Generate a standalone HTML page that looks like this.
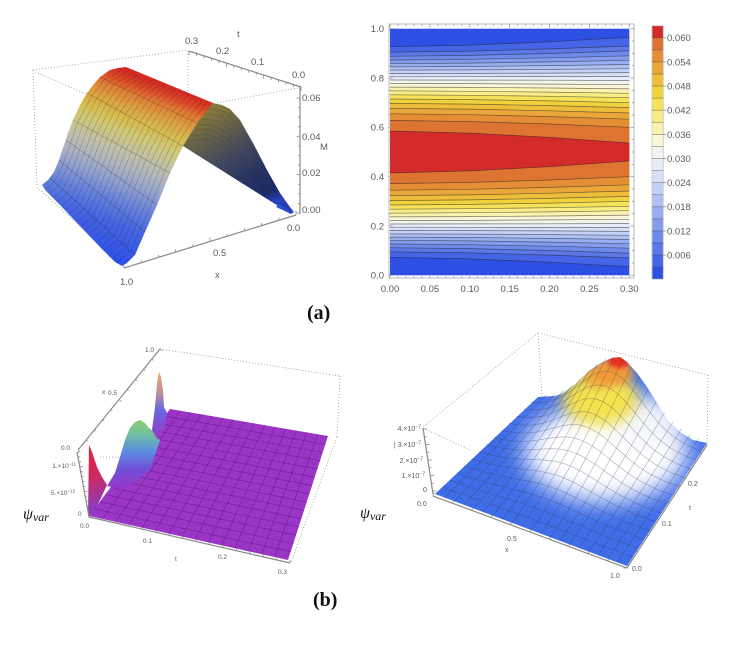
<!DOCTYPE html>
<html><head><meta charset="utf-8">
<style>
html,body{margin:0;padding:0;background:#fff;}
svg{display:block;}
text{font-family:"Liberation Sans",sans-serif;}
.ax{stroke:#8a8a8a;stroke-width:1.2;fill:none;}
.dot{stroke:#a0a0a0;stroke-width:0.9;stroke-dasharray:1 2;fill:none;}
.lb{fill:#5a5a5a;}
</style></head>
<body>
<svg id="s" width="743" height="645" viewBox="0 0 743 645" xmlns="http://www.w3.org/2000/svg">
<defs>
 <linearGradient id="g1" gradientUnits="userSpaceOnUse" x1="165" y1="86" x2="102.5" y2="254.8">
  <stop offset="0" stop-color="#d42a22"/>
  <stop offset="0.05" stop-color="#dc4a28"/>
  <stop offset="0.10" stop-color="#e07a34"/>
  <stop offset="0.17" stop-color="#dca040"/>
  <stop offset="0.25" stop-color="#d6be50"/>
  <stop offset="0.32" stop-color="#cfc878"/>
  <stop offset="0.42" stop-color="#c0c0a8"/>
  <stop offset="0.50" stop-color="#b0b4c0"/>
  <stop offset="0.60" stop-color="#8c9dd0"/>
  <stop offset="0.70" stop-color="#6480dc"/>
  <stop offset="0.82" stop-color="#4464e2"/>
  <stop offset="1" stop-color="#3050e8"/>
 </linearGradient>
 <linearGradient id="g1d" gradientUnits="userSpaceOnUse" x1="215" y1="104" x2="270" y2="205">
  <stop offset="0" stop-color="#8a7c3c"/>
  <stop offset="0.2" stop-color="#6a6446"/>
  <stop offset="0.45" stop-color="#444a5c"/>
  <stop offset="0.7" stop-color="#283462"/>
  <stop offset="0.9" stop-color="#1e2c6a"/>
  <stop offset="1" stop-color="#2a46c8"/>
 </linearGradient>
 <linearGradient id="gsp" gradientUnits="userSpaceOnUse" x1="88" y1="450" x2="106" y2="505">
  <stop offset="0" stop-color="#e8203c"/>
  <stop offset="0.5" stop-color="#c82a68"/>
  <stop offset="1" stop-color="#8a3cc0"/>
 </linearGradient>
 <linearGradient id="gbu" gradientUnits="userSpaceOnUse" x1="0" y1="420" x2="0" y2="490">
  <stop offset="0" stop-color="#90cc70"/>
  <stop offset="0.2" stop-color="#70c0a0"/>
  <stop offset="0.45" stop-color="#5a8ee0"/>
  <stop offset="0.7" stop-color="#7050d8"/>
  <stop offset="1" stop-color="#9a35c6"/>
 </linearGradient>
 <linearGradient id="gtp" gradientUnits="userSpaceOnUse" x1="0" y1="372" x2="0" y2="440">
  <stop offset="0" stop-color="#e8a868"/>
  <stop offset="0.3" stop-color="#c0909a"/>
  <stop offset="0.55" stop-color="#6868e0"/>
  <stop offset="1" stop-color="#9a35c6"/>
 </linearGradient>
 <clipPath id="c4">
  <polygon points="435,494 538,397 555,396 563,393 577,383 590,370 603,362 612,358 620,357 627,362 637,373 647,387 657,403 667,420 680,432 693,440 707,443 627,566"/>
 </clipPath>
 <filter id="b12" x="-50%" y="-50%" width="200%" height="200%"><feGaussianBlur stdDeviation="12"/></filter>
 <filter id="b7" x="-50%" y="-50%" width="200%" height="200%"><feGaussianBlur stdDeviation="7"/></filter>
 <filter id="b4" x="-50%" y="-50%" width="200%" height="200%"><feGaussianBlur stdDeviation="4"/></filter>
 <filter id="b2" x="-50%" y="-50%" width="200%" height="200%"><feGaussianBlur stdDeviation="2.5"/></filter>
</defs>
<rect width="743" height="645" fill="#fff"/>

<!-- ============ Panel 1 : 3D M surface ============ -->
<path class="dot" d="M33,70 L188,50 M33,70 L37,187 M37,187 L121,264 M188,51 L188,100 M35,72 L93,97 M298,88 L216,103"/>
<polygon fill="url(#g1)" points="42,185 48,180 54,172 59,160 63,148 68,133 73,120 80,105 87,93 94,84 100,77 110,70 118,68 126,67 213,103 216,106 197,123 183,146 170,173 157,205 145,232 135,255 127,263 122,266 115,262 100,247 80,226 60,205 46,191"/>
<polygon fill="url(#g1d)" points="213,103 222,105 230,109 240,120 253,143 267,170 280,193 290,207 294,212 291,214 183,146 197,123"/>
<polygon fill="#3050d8" points="279,204 294,212 291,214 276,207"/>
<g id="m1"></g>
<path class="ax" d="M189,51 L301,87 M300,87 L300,214 M296,215 L124,268"/>
<g id="t1"></g>
<g class="lb" font-size="9.5">
 <text x="237" y="37">t</text>
 <text x="185" y="44">0.3</text>
 <text x="216" y="54">0.2</text>
 <text x="251" y="65">0.1</text>
 <text x="292" y="78">0.0</text>
 <text x="302" y="101">0.06</text>
 <text x="302" y="140">0.04</text>
 <text x="302" y="176">0.02</text>
 <text x="302" y="213">0.00</text>
 <text x="320" y="150">M</text>
 <text x="287" y="231">0.0</text>
 <text x="213" y="256">0.5</text>
 <text x="120" y="285">1.0</text>
 <text x="215" y="278">x</text>
</g>

<!-- ============ Panel 2 : contour ============ -->
<rect x="390" y="28.7" width="239.3" height="246.6" fill="#2d4fe4"/>
<g id="cp">
<polygon fill="#4565e6" points="390,46.7 469.8,45.1 549.5,41.8 629.3,37.3 629.3,266.7 549.5,262.2 469.8,258.9 390,257.3"/>
<polygon fill="#5a78e8" points="390,52.1 469.8,51.1 549.5,48.9 629.3,46.0 629.3,258.0 549.5,255.1 469.8,252.9 390,251.9"/>
<polygon fill="#6e8aea" points="390,56.3 469.8,55.4 549.5,53.5 629.3,50.9 629.3,253.1 549.5,250.5 469.8,248.6 390,247.7"/>
<polygon fill="#839cee" points="390,60.0 469.8,59.3 549.5,57.8 629.3,55.8 629.3,248.2 549.5,246.2 469.8,244.7 390,244.0"/>
<polygon fill="#98aef1" points="390,63.7 469.8,63.1 549.5,61.9 629.3,60.3 629.3,243.7 549.5,242.1 469.8,240.9 390,240.3"/>
<polygon fill="#aec0f4" points="390,66.9 469.8,66.5 549.5,65.6 629.3,64.5 629.3,239.5 549.5,238.4 469.8,237.5 390,237.1"/>
<polygon fill="#c4d1f6" points="390,70.1 469.8,69.9 549.5,69.4 629.3,68.7 629.3,235.3 549.5,234.6 469.8,234.1 390,233.9"/>
<polygon fill="#d8e0f8" points="390,73.6 469.8,73.4 549.5,73.1 629.3,72.6 629.3,231.4 549.5,230.9 469.8,230.6 390,230.4"/>
<polygon fill="#e8ecf6" points="390,76.8 469.8,76.7 549.5,76.6 629.3,76.5 629.3,227.5 549.5,227.4 469.8,227.3 390,227.2"/>
<polygon fill="#f3f3ee" points="390,80.0 469.8,80.1 549.5,80.2 629.3,80.5 629.3,223.5 549.5,223.8 469.8,223.9 390,224.0"/>
<polygon fill="#f8f6d6" points="390,83.4 469.8,83.6 549.5,84.1 629.3,84.7 629.3,219.3 549.5,219.9 469.8,220.4 390,220.6"/>
<polygon fill="#faf3b0" points="390,87.1 469.8,87.4 549.5,88.0 629.3,88.9 629.3,215.1 549.5,216.0 469.8,216.6 390,216.9"/>
<polygon fill="#f8ec84" points="390,90.8 469.8,91.3 549.5,92.1 629.3,93.3 629.3,210.7 549.5,211.9 469.8,212.7 390,213.2"/>
<polygon fill="#f5e25a" points="390,94.8 469.8,95.3 549.5,96.3 629.3,97.7 629.3,206.3 549.5,207.7 469.8,208.7 390,209.2"/>
<polygon fill="#f2d23c" points="390,99.0 469.8,99.6 549.5,100.9 629.3,102.7 629.3,201.3 549.5,203.1 469.8,204.4 390,205.0"/>
<polygon fill="#eebe3a" points="390,103.4 469.8,104.1 549.5,105.6 629.3,107.6 629.3,196.4 549.5,198.4 469.8,199.9 390,200.6"/>
<polygon fill="#eaa63a" points="390,108.4 469.8,109.1 549.5,110.8 629.3,113.0 629.3,191.0 549.5,193.2 469.8,194.9 390,195.6"/>
<polygon fill="#e58e36" points="390,113.8 469.8,114.7 549.5,116.6 629.3,119.2 629.3,184.8 549.5,187.4 469.8,189.3 390,190.2"/>
<polygon fill="#de7432" points="390,120.4 469.8,121.6 549.5,124.0 629.3,127.3 629.3,176.7 549.5,180.0 469.8,182.4 390,183.6"/>
<polygon fill="#d42a2a" points="390,131.0 469.8,133.1 549.5,137.3 629.3,143.1 629.3,160.9 549.5,166.7 469.8,170.9 390,173.0"/>
</g>
<g id="cl"></g>
<rect x="389" y="24" width="245" height="254" fill="none" stroke="#b8b8b8" stroke-width="1"/>
<g id="t2"></g>
<g class="lb" font-size="9.5" text-anchor="end">
 <text x="384" y="32">1.0</text>
 <text x="384" y="81.3">0.8</text>
 <text x="384" y="130.6">0.6</text>
 <text x="384" y="179.9">0.4</text>
 <text x="384" y="229.3">0.2</text>
 <text x="384" y="278.6">0.0</text>
</g>
<g class="lb" font-size="9.5" text-anchor="middle">
 <text x="390" y="292">0.00</text>
 <text x="429.9" y="292">0.05</text>
 <text x="469.8" y="292">0.10</text>
 <text x="509.7" y="292">0.15</text>
 <text x="549.5" y="292">0.20</text>
 <text x="589.4" y="292">0.25</text>
 <text x="629.3" y="292">0.30</text>
</g>
<!-- colorbar -->
<g>
<rect x="652" y="267.13" width="11.3" height="12.07" fill="#2d4fe4"/>
<rect x="652" y="255.06" width="11.3" height="12.07" fill="#4565e6"/>
<rect x="652" y="242.99" width="11.3" height="12.07" fill="#5a78e8"/>
<rect x="652" y="230.92" width="11.3" height="12.07" fill="#6e8aea"/>
<rect x="652" y="218.85" width="11.3" height="12.07" fill="#839cee"/>
<rect x="652" y="206.78" width="11.3" height="12.07" fill="#98aef1"/>
<rect x="652" y="194.71" width="11.3" height="12.07" fill="#aec0f4"/>
<rect x="652" y="182.64" width="11.3" height="12.07" fill="#c4d1f6"/>
<rect x="652" y="170.57" width="11.3" height="12.07" fill="#d8e0f8"/>
<rect x="652" y="158.50" width="11.3" height="12.07" fill="#e8ecf6"/>
<rect x="652" y="146.43" width="11.3" height="12.07" fill="#f3f3ee"/>
<rect x="652" y="134.36" width="11.3" height="12.07" fill="#f8f6d6"/>
<rect x="652" y="122.29" width="11.3" height="12.07" fill="#faf3b0"/>
<rect x="652" y="110.22" width="11.3" height="12.07" fill="#f8ec84"/>
<rect x="652" y="98.15" width="11.3" height="12.07" fill="#f5e25a"/>
<rect x="652" y="86.08" width="11.3" height="12.07" fill="#f2d23c"/>
<rect x="652" y="74.01" width="11.3" height="12.07" fill="#eebe3a"/>
<rect x="652" y="61.94" width="11.3" height="12.07" fill="#eaa63a"/>
<rect x="652" y="49.87" width="11.3" height="12.07" fill="#e58e36"/>
<rect x="652" y="37.80" width="11.3" height="12.07" fill="#de7432"/>
<rect x="652" y="25.73" width="11.3" height="12.07" fill="#d42a2a"/>
<rect x="652" y="25.73" width="11.3" height="253.47" fill="none" stroke="#c8c8c8" stroke-width="0.8"/>
</g>
<g id="tc"></g>
<g class="lb" font-size="9.5">
 <text x="667" y="41.2">0.060</text>
 <text x="667" y="65.3">0.054</text>
 <text x="667" y="89.5">0.048</text>
 <text x="667" y="113.6">0.042</text>
 <text x="667" y="137.8">0.036</text>
 <text x="667" y="161.9">0.030</text>
 <text x="667" y="186.0">0.024</text>
 <text x="667" y="210.2">0.018</text>
 <text x="667" y="234.3">0.012</text>
 <text x="667" y="258.5">0.006</text>
</g>

<!-- (a) -->
<text x="307" y="319" font-weight="bold" font-size="20" fill="#111" style="font-family:'Liberation Serif',serif">(a)</text>

<!-- ============ Panel 3 : psi var purple ============ -->
<path class="dot" d="M160,349 L340,376 M340,376 L337,437 M337,437 L291,562 M100,457 L170,458"/>
<polygon fill="#9a35c6" points="89,516 288,560 328,436 170,409"/>
<g id="m3"></g>
<polygon fill="url(#gsp)" points="89,445 92,452 97,467 102,477 107,485 100,500 92,515 88,516"/>
<polygon fill="url(#gbu)" points="107,486 115,473 120,457 125,440 130,428 135,422 140,420 145,423 148,427 152,430 160,440 150,470 125,490"/>
<polygon fill="url(#gtp)" points="152,430 155,407 157,383 159,372 161,377 163,390 164,407 167,413 165,425 158,440"/>
<path class="ax" stroke-width="1.1" d="M78,450 L160,349 M77,452 L89,517 M89,517 L290,563"/>
<g id="t3"></g>
<g class="lb" font-size="6.5">
 <text x="145" y="352">1.0</text>
 <text x="102" y="394">x</text>
 <text x="108" y="395">0.5</text>
 <text x="61" y="450">0.0</text>
 <text x="76" y="468" text-anchor="end">1.×10<tspan dy="-2.5" font-size="4.5">−11</tspan></text>
 <text x="75" y="495" text-anchor="end">5.×10<tspan dy="-2.5" font-size="4.5">−12</tspan></text>
 <text x="78" y="516">0</text>
 <text x="80" y="528">0.0</text>
 <text x="143" y="543">0.1</text>
 <text x="175" y="561">t</text>
 <text x="218" y="559">0.2</text>
 <text x="278" y="574">0.3</text>
</g>
<text x="23" y="519" font-size="16" font-style="italic" fill="#111" style="font-family:'Liberation Serif',serif">ψ<tspan font-size="12" dy="2">var</tspan></text>

<!-- ============ Panel 4 : psi var hump ============ -->
<path class="dot" d="M538,333 L708,375 M538,333 L542,397 M538,333 L423,427 M708,375 L707,443 M423,428 L470,450"/>
<g clip-path="url(#c4)">
 <rect x="420" y="340" width="300" height="240" fill="#3f6de8"/>
 <ellipse cx="606" cy="452" rx="82" ry="50" fill="#ffffff" filter="url(#b12)"/>
 <ellipse cx="645" cy="422" rx="38" ry="24" fill="#f4f6fb" filter="url(#b12)"/>
 <ellipse cx="600" cy="398" rx="38" ry="28" fill="#f4e250" filter="url(#b7)"/>
 <ellipse cx="598" cy="378" rx="16" ry="10" fill="#f0b040" filter="url(#b4)"/>
 <ellipse cx="613" cy="372" rx="20" ry="14" fill="#f29a38" filter="url(#b4)"/>
 <ellipse cx="619" cy="361" rx="11" ry="7" fill="#e8321e" filter="url(#b2)"/>
</g>
<g id="m4"></g>
<path class="ax" stroke-width="1.1" d="M423,428 L433,494 M433,496 L627,568 M627,568 L707,445"/>
<g id="t4"></g>
<g class="lb" font-size="7">
 <text x="421" y="431" text-anchor="end">4.×10<tspan dy="-2.5" font-size="5">−7</tspan></text>
 <text x="421" y="447" text-anchor="end">| 3.×10<tspan dy="-2.5" font-size="5">−7</tspan></text>
 <text x="423" y="463" text-anchor="end">2.×10<tspan dy="-2.5" font-size="5">−7</tspan></text>
 <text x="425" y="478" text-anchor="end">1.×10<tspan dy="-2.5" font-size="5">−7</tspan></text>
 <text x="423" y="492">0</text>
 <text x="417" y="506">0.0</text>
 <text x="507" y="541">0.5</text>
 <text x="505" y="552">x</text>
 <text x="610" y="578">1.0</text>
 <text x="632" y="571">0.0</text>
 <text x="662" y="526">0.1</text>
 <text x="689" y="510">t</text>
 <text x="688" y="486">0.2</text>
</g>
<text x="360" y="518" font-size="16" font-style="italic" fill="#111" style="font-family:'Liberation Serif',serif">ψ<tspan font-size="12" dy="2">var</tspan></text>

<!-- (b) -->
<text x="313" y="606" font-weight="bold" font-size="20" fill="#111" style="font-family:'Liberation Serif',serif">(b)</text>
</svg>
<script>
(function(){
var NS="http://www.w3.org/2000/svg";
function el(p,tag,a){var e=document.createElementNS(NS,tag);for(var k in a)e.setAttribute(k,a[k]);p.appendChild(e);return e;}
function P(pts){return pts.map(function(p){return p[0].toFixed(1)+","+p[1].toFixed(1);}).join(" ");}
function line(g,pts,st,w,op){el(g,'polyline',{points:P(pts),fill:'none',stroke:st,'stroke-width':w,'stroke-opacity':op});}
function lerp(a,b,f){return [a[0]+(b[0]-a[0])*f,a[1]+(b[1]-a[1])*f];}
function ticks(g,a,b,n,major,dir,lmin,lmaj,st){
 for(var i=0;i<=n;i++){var p=lerp(a,b,i/n);var L=(i%major===0)?lmaj:lmin;
 el(g,'line',{x1:p[0],y1:p[1],x2:p[0]+dir[0]*L,y2:p[1]+dir[1]*L,stroke:st||'#888','stroke-width':0.8});}}
// Panel 1 mesh
var g1=document.getElementById('m1');
var L=[[118,68],[100,77],[87,93],[73,120],[66,140],[59,160],[50,178],[42,185]];
var R=[[213,103],[197,123],[183,146],[170,173],[157,205],[145,232],[135,255],[122,266]];
for(var i=1;i<L.length-1;i++) line(g1,[L[i],R[i]],'#222',0.6,0.35);
for(var j=1;j<20;j++){var f=j/20;line(g1,L.map(function(p,i){return lerp(p,R[i],f);}),'#222',0.6,0.3);}
var TP=[[213,103],[227,107],[240,120],[253,143],[267,170],[280,193],[291,210]];
for(var j=1;j<8;j++){var f=j/8;var a=lerp([213,103],[183,146],f);var b=lerp([291,210],[291,214],f);
 line(g1,TP.map(function(p,i){var s=i/(TP.length-1);return [p[0]+(a[0]-213)*(1-s)+(b[0]-291)*s, p[1]+(a[1]-103)*(1-s)+(b[1]-210)*s];}),'#000',0.5,0.2);}
var t1=document.getElementById('t1');
ticks(t1,[189,51],[301,87],15,5,[0,1],2.5,4);
ticks(t1,[300,213],[300,98],12,4,[-1,0],2,3.5);
ticks(t1,[296,215],[124,268],10,5,[0,-1],2.5,4);
// Panel 2 contour lines
var cl=document.getElementById('cl');
var polys=document.getElementById('cp').getElementsByTagName('polygon');
for(var k=0;k<polys.length;k++){
 var pts=polys[k].getAttribute('points').trim().split(/\s+/).map(function(s){return s.split(',').map(Number);});
 line(cl,pts.slice(0,4),'#222',0.7,0.6);
 line(cl,pts.slice(4,8),'#222',0.7,0.6);
}
var t2=document.getElementById('t2');
ticks(t2,[390,24],[629.3,24],30,5,[0,1],2,3.5,'#999');
ticks(t2,[390,278],[629.3,278],30,5,[0,-1],2,3.5,'#999');
ticks(t2,[389,275.3],[389,28.7],20,4,[1,0],2,3.5,'#999');
ticks(t2,[634,275.3],[634,28.7],20,4,[-1,0],2,3.5,'#999');
var tc=document.getElementById('tc');
for(var k=1;k<=20;k++){var y=279.2-k*12.07;
 el(tc,'line',{x1:652,y1:y,x2:663.3,y2:y,stroke:'#333','stroke-width':0.7,'stroke-opacity':0.5});
 if(k%2===0) el(tc,'line',{x1:663.3,y1:y,x2:666,y2:y,stroke:'#777','stroke-width':0.7});}
// Panel 3 mesh
var m3=document.getElementById('m3');
var A=[89,516],B=[288,560],C=[328,436],D=[170,409];
function bil3(u,v){return [A[0]*(1-u)*(1-v)+B[0]*u*(1-v)+C[0]*u*v+D[0]*(1-u)*v, A[1]*(1-u)*(1-v)+B[1]*u*(1-v)+C[1]*u*v+D[1]*(1-u)*v];}
for(var i=1;i<15;i++){var u=i/15;line(m3,[bil3(u,0),bil3(u,1)],'#3a0a5a',0.6,0.45);}
for(var j=1;j<15;j++){var v=j/15;line(m3,[bil3(0,v),bil3(1,v)],'#3a0a5a',0.6,0.45);}
var t3=document.getElementById('t3');
ticks(t3,[78,450],[160,349],10,5,[0.78,0.63],2,3);
ticks(t3,[88.5,516],[77.5,452],13,5,[1,0],1.8,3);
ticks(t3,[89,517],[290,563],15,5,[0,-1],2,3);
// Panel 4 mesh
var m4=document.getElementById('m4');
var FL=[435,494],FR=[627,566],BR=[707,443],BL=[538,397];
function f4(u,v){var x=FL[0]*(1-u)*(1-v)+FR[0]*u*(1-v)+BR[0]*u*v+BL[0]*(1-u)*v;
 var y=FL[1]*(1-u)*(1-v)+FR[1]*u*(1-v)+BR[1]*u*v+BL[1]*(1-u)*v;
 var h=61*Math.exp(-Math.pow((u-0.47)/0.26,2))*Math.pow(v,1.5);return [x,y-h];}
for(var i=1;i<20;i++){var u=i/20,pts=[];for(var s=0;s<=30;s++)pts.push(f4(u,s/30));line(m4,pts,'#333848',0.6,0.4);}
for(var j=1;j<14;j++){var v=j/14,pts=[];for(var s=0;s<=40;s++)pts.push(f4(s/40,v));line(m4,pts,'#333848',0.6,0.4);}
var t4=document.getElementById('t4');
ticks(t4,[433,491],[423.5,429],8,2,[1,0],2,3.5);
ticks(t4,[433,496],[627,568],10,5,[0.35,-0.94],2,3.5);
ticks(t4,[627,568],[707,445],15,5,[-1,0],2,3.5);
})();
</script>
</body></html>
